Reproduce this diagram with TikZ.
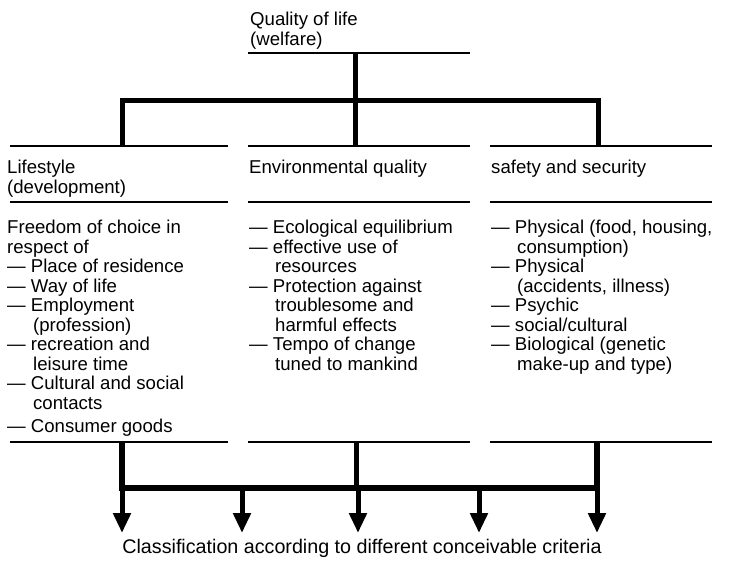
\documentclass[tikz,border=0pt]{standalone}
\usepackage{fontspec}
\setmainfont{Liberation Sans}
\usetikzlibrary{arrows.meta}
\newcommand\contd{\hspace*{26pt}}
\begin{document}
\begin{tikzpicture}[x=1pt,y=-1pt,
  % multi-line nodes: the base anchor sits on the last line
  txt/.style={anchor=base west, inner sep=0pt, align=left,
    font=\fontsize{18.6}{20}\selectfont},
  body/.style={txt, font=\fontsize{18.6}{19.5}\selectfont},
  rule/.style={line width=2pt},
  frame/.style={line width=5pt, line join=miter},
  bus/.style={line width=6pt, line join=miter},
  down/.style={line width=5pt, -{Triangle[width=17pt,length=20pt]}}
]
\useasboundingbox (0,0) rectangle (731,566);

% ---- texts ----
\node[txt] (title) at (250,45) {Quality of life\\(welfare)};
\node[txt] (hL) at (7,193) {Lifestyle\\(development)};
\node[txt] (hM) at (249,173) {Environmental quality};
\node[txt] (hR) at (491,173) {safety and security};

\node[body] (bL) at (7,432) {Freedom of choice in\\
respect of\\
— Place of residence\\
— Way of life\\
— Employment\\
\contd(profession)\\
— recreation and\\
\contd leisure time\\
— Cultural and social\\
\contd contacts\\[3.5pt]
— Consumer goods};

\node[body] (bM) at (249,370) {— Ecological equilibrium\\
— effective use of\\
\contd resources\\
— Protection against\\
\contd troublesome and\\
\contd harmful effects\\
— Tempo of change\\
\contd tuned to mankind};

\node[body] (bR) at (491,370) {— Physical (food, housing,\\
\contd consumption)\\
— Physical\\
\contd (accidents, illness)\\
— Psychic\\
— social/cultural\\
— Biological (genetic\\
\contd make-up and type)};

\node[txt, anchor=base, font=\fontsize{19.7}{20}\selectfont] (crit) at (362,553)
  {Classification according to different conceivable criteria};

% ---- horizontal rules ----
\draw[rule] (248,53) -- (470,53);
\foreach \y in {146,202,442} {
  \draw[rule] (10,\y) -- (228,\y);
  \draw[rule] (248,\y) -- (470,\y);
  \draw[rule] (490,\y) -- (712,\y);
}

% ---- junction points ----
\coordinate (tq) at (355,53);
\coordinate (tj) at (355,100);
\coordinate (tl) at (122,100);
\coordinate (tr) at (598,100);
\coordinate (hl) at (122,146);
\coordinate (hm) at (355,146);
\coordinate (hr) at (598,146);

\coordinate (fl) at (122,442);
\coordinate (fm) at (356,442);
\coordinate (fr) at (597,442);
\coordinate (bl) at (122,488);
\coordinate (bm) at (356,488);
\coordinate (br) at (597,488);

% ---- upper connectors ----
\draw[frame] (tq) -- (tj);
\draw[frame] (hl) -- (tl) -- (tr) -- (hr);
\draw[frame] (tj) -- (hm);

% ---- lower connectors ----
\draw[bus] (fl) -- (bl) -- (br) -- (fr);
\draw[frame] (fm) -- (bm);

\foreach \x/\n in {122/a1,242/a2,358/a3,479/a4,597/a5} {
  \coordinate (s\n) at (\x,488);
  \coordinate (e\n) at (\x,533);
  \draw[down] (s\n) -- (e\n);
}
\end{tikzpicture}
\end{document}
